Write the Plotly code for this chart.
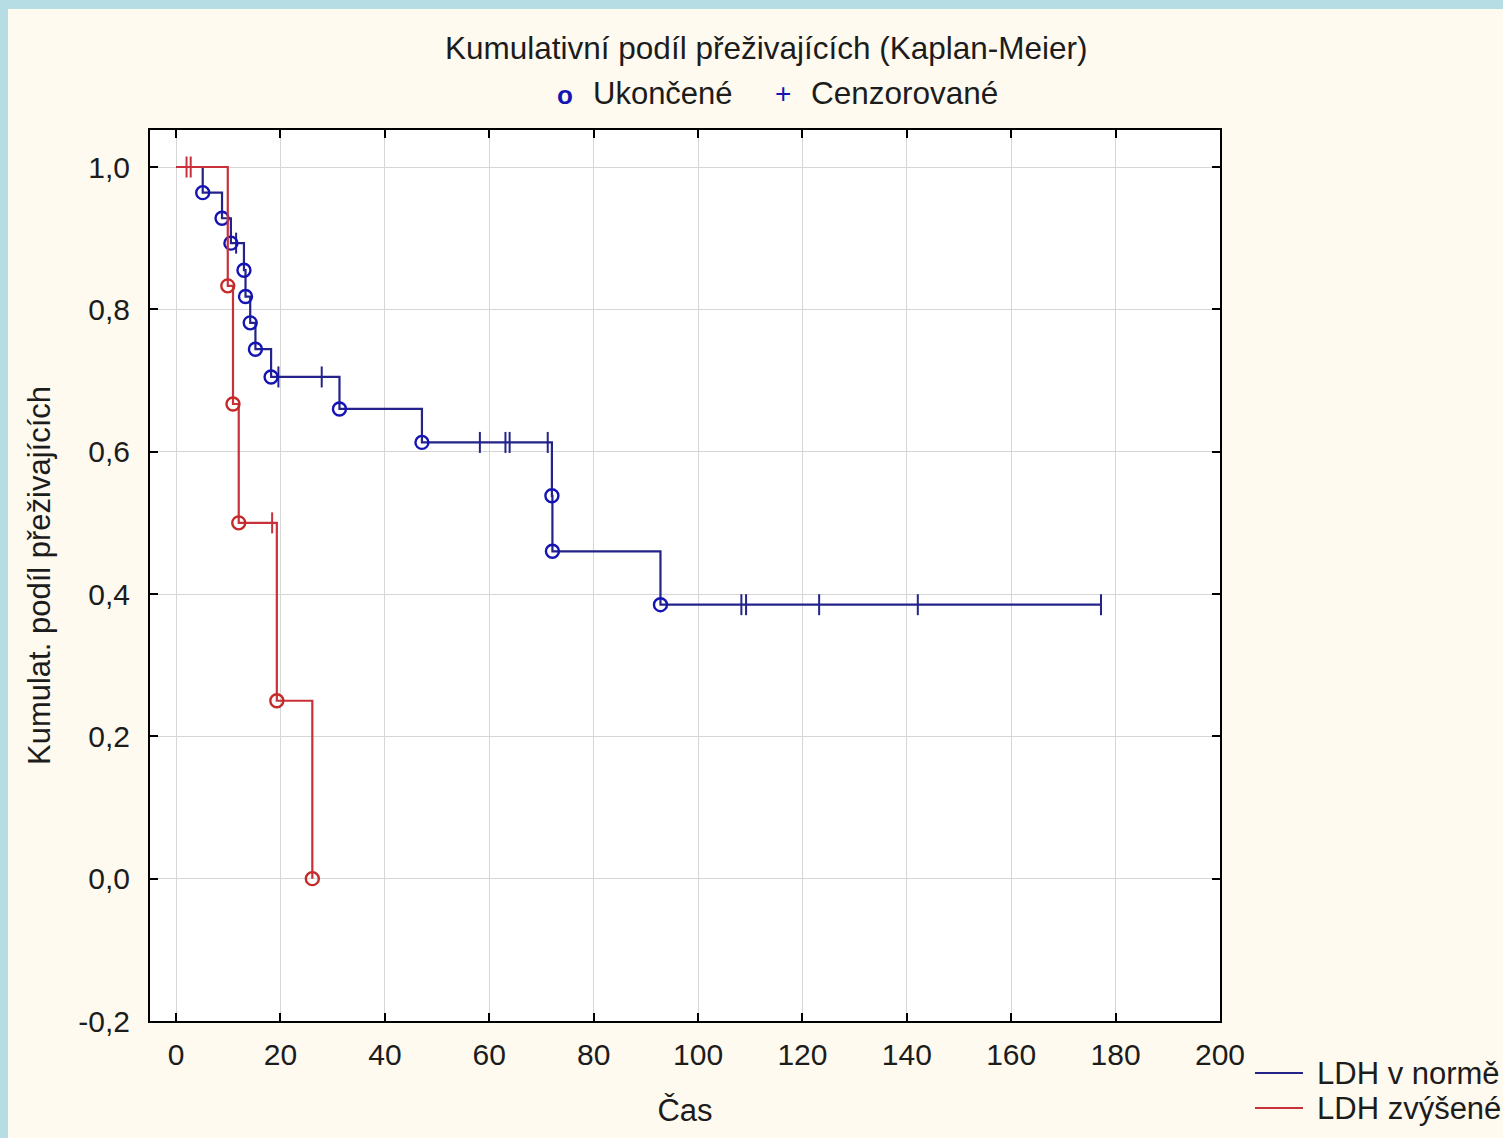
import plotly.graph_objects as go

# ---------------- data ----------------
blue_name = "LDH v normě"
blue_event_t = [5.1, 8.8, 10.5, 13.0, 13.3, 14.2, 15.2, 18.2, 31.3, 47.1, 72.0, 72.1, 92.8]
blue_event_s = [0.964, 0.928, 0.893, 0.855, 0.818, 0.781, 0.744, 0.705, 0.660, 0.613, 0.538, 0.460, 0.385]
blue_cens_t = [11.5, 19.6, 27.9, 58.2, 63.1, 63.9, 71.2, 108.3, 109.2, 123.2, 142.1, 177.2]

red_name = "LDH zvýšené"
red_event_t = [9.9, 10.9, 12.0, 19.3, 26.1]
red_event_s = [0.833, 0.667, 0.500, 0.250, 0.000]
red_cens_t = [2.0, 2.8, 18.4]

x_ticks = [0, 20, 40, 60, 80, 100, 120, 140, 160, 180, 200]
y_ticks = [-0.2, 0.0, 0.2, 0.4, 0.6, 0.8, 1.0]
y_ticktext = ["-0,2", "0,0", "0,2", "0,4", "0,6", "0,8", "1,0"]

title_text = "Kumulativní podíl přeživajících (Kaplan-Meier)"
x_title = "Čas"
y_title = "Kumulat. podíl přeživajících"

# ---------------- styling ----------------
W, H = 1503, 1138
L, R, T, B = 150, 1220, 130, 1021  # plot area in pixels
FONT = "Liberation Sans, Arial, sans-serif"
TXT = "#1c1c1c"
BLUE_LINE = "#23238a"
BLUE_MK = "#1414b4"
RED_LINE = "#c8303a"
RED_MK = "#c42a2a"
CREAM = "#fefaef"
FRAME = "#b6dde3"


def px(x):
    return (x - L) / (R - L)


def py(y):
    return (B - y) / (B - T)


def surv_at(t, ev_t, ev_s):
    s = 1.0
    for et, es in zip(ev_t, ev_s):
        if et <= t:
            s = es
    return s


def km_curve(ev_t, ev_s, cens_t):
    end = max(list(ev_t) + list(cens_t))
    xs = [0.0] + list(ev_t) + [end]
    ys = [1.0] + list(ev_s) + [surv_at(end, ev_t, ev_s)]
    return xs, ys


fig = go.Figure()

series = [
    (blue_name, blue_event_t, blue_event_s, blue_cens_t, BLUE_LINE, BLUE_MK),
    (red_name, red_event_t, red_event_s, red_cens_t, RED_LINE, RED_MK),
]
for name, ev_t, ev_s, cens_t, lc, mc in series:
    xs, ys = km_curve(ev_t, ev_s, cens_t)
    fig.add_trace(go.Scatter(
        x=xs, y=ys, mode="lines", name=name,
        line=dict(color=lc, width=2.2, shape="hv"),
        showlegend=False,
    ))
    fig.add_trace(go.Scatter(
        x=cens_t, y=[surv_at(t, ev_t, ev_s) for t in cens_t], mode="markers",
        marker=dict(symbol="line-ns", size=15, line=dict(color=lc, width=2)),
        showlegend=False, hoverinfo="skip",
    ))
    fig.add_trace(go.Scatter(
        x=ev_t, y=ev_s, mode="markers",
        marker=dict(symbol="circle-open", size=13, color=mc, line=dict(color=mc, width=2.4)),
        showlegend=False, hoverinfo="skip",
    ))

axis_common = dict(
    showline=True, linecolor="black", linewidth=2, mirror="ticks",
    ticks="inside", ticklen=8, tickwidth=1.5, tickcolor="black",
    showgrid=True, gridcolor="#d6d6d6", gridwidth=1, zeroline=False,
    tickfont=dict(family=FONT, size=30, color=TXT),
)

fig.update_xaxes(
    range=[-5, 200], tickvals=x_ticks, ticklabelstandoff=6, **axis_common,
    title=dict(text=x_title, font=dict(family=FONT, size=31, color=TXT), standoff=29),
)
fig.update_yaxes(
    range=[-0.2, 1.052], tickvals=y_ticks, ticktext=y_ticktext, ticklabelstandoff=12,
    **axis_common,
    title=dict(text=y_title, font=dict(family=FONT, size=31, color=TXT), standoff=18),
)

annotations = [
    dict(text=title_text, x=px(766), y=py(48), xanchor="center", yanchor="middle",
         font=dict(family=FONT, size=31.5, color=TXT)),
    dict(text="<b>o</b>", x=px(565), y=py(95), xanchor="center", yanchor="middle",
         font=dict(family=FONT, size=26, color=BLUE_MK)),
    dict(text="Ukončené", x=px(591), y=py(93), xanchor="left", yanchor="middle",
         font=dict(family=FONT, size=31, color=TXT)),
    dict(text="+", x=px(783), y=py(94), xanchor="center", yanchor="middle",
         font=dict(family=FONT, size=28, color=BLUE_MK)),
    dict(text="Cenzorované", x=px(809), y=py(93), xanchor="left", yanchor="middle",
         font=dict(family=FONT, size=31.5, color=TXT)),
]

shapes = [
    dict(type="rect", xref="paper", yref="paper", x0=px(0), x1=px(8), y0=py(H), y1=py(0),
         fillcolor=FRAME, line=dict(width=0), layer="below"),
    dict(type="rect", xref="paper", yref="paper", x0=px(0), x1=px(W), y0=py(9), y1=py(0),
         fillcolor=FRAME, line=dict(width=0), layer="below"),
]

# legend (bottom right): sample line + label for each series
legend_rows_y = [1073, 1108]
for (name, _, _, _, lc, _), ly in zip(series, legend_rows_y):
    shapes.append(dict(type="line", xref="paper", yref="paper",
                       x0=px(1255), x1=px(1303), y0=py(ly), y1=py(ly),
                       line=dict(color=lc, width=2)))
    annotations.append(dict(text=name, x=px(1315), y=py(ly), xanchor="left", yanchor="middle",
                            font=dict(family=FONT, size=31, color=TXT)))

for a in annotations:
    a.update(xref="paper", yref="paper", showarrow=False)

fig.update_layout(
    width=W, height=H,
    margin=dict(l=L, r=W - R, t=T, b=H - B, autoexpand=False),
    paper_bgcolor=CREAM, plot_bgcolor="white",
    annotations=annotations, shapes=shapes,
    showlegend=False,
    font=dict(family=FONT, color=TXT),
)

fig.write_html("out.html")
